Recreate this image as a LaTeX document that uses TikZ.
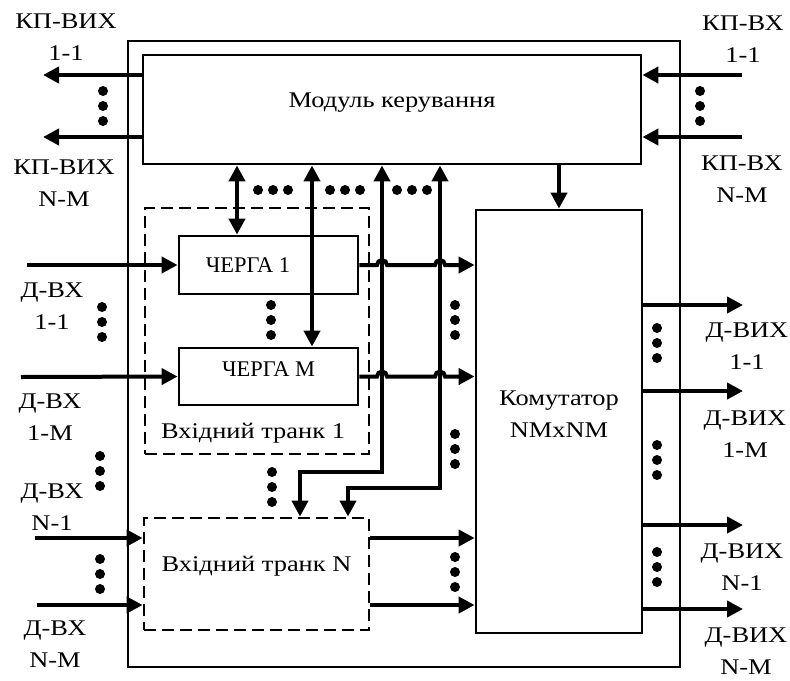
\documentclass[tikz,border=0pt]{standalone}
\usepackage{fontspec}
\setmainfont{Liberation Serif}[FakeStretch=1.18]
\newfontfamily\quefont{Liberation Serif}
\usepackage{tikz}
\usetikzlibrary{arrows.meta,positioning,fit,calc}

\tikzset{
  blk/.style={draw, line width=1.4pt, inner sep=0pt},
  trunk/.style={draw, line width=1.4pt, dash pattern=on 6pt off 3pt, inner sep=0pt},
  arr/.style={line width=2pt, -{Triangle[length=8pt,width=8pt]}},
  biarr/.style={line width=2pt, {Triangle[length=8pt,width=8pt]}-{Triangle[length=8pt,width=8pt]}},
  lbl/.style={align=center, inner sep=0pt},
  quetxt/.style={font=\quefont\fontsize{11.2}{13}\selectfont},
}
\newcommand{\dotcol}[2]{\foreach \dd in {-15,0,15} \fill (#1,#2+\dd) circle (2.5pt);}
\newcommand{\dotrow}[2]{\foreach \dd in {-15,0,15} \fill (#1+\dd,#2) circle (2.5pt);}

\begin{document}
\begin{tikzpicture}[x=0.5pt, y=-0.5pt, font=\fontsize{11.2}{16}\selectfont]
  \useasboundingbox (0,0) rectangle (790,680);

  % Outer frame
  \node[blk, fit={(128,41) (680,667)}] (frame) {};

  % Control module
  \node[blk, fit={(143,55) (641,164)}] (ctrl) {Модуль керування};

  % Switch
  \node[blk, fit={(476,210) (642,633)}, align=center] (sw) {Комутатор\\NMxNM};

  % Input trunk 1 with queues
  \node[trunk, fit={(145,208) (369,454)}] (tr1) {};
  \node[lbl] (tr1t) at (253,433) {Вхідний транк 1};
  \node[blk, fit={(179,236) (358,294)}] (q1) {};
  \node[lbl, quetxt] (q1t) at (248,265) {ЧЕРГА 1};
  \node[blk, fit={(179,348) (358,405)}, quetxt] (qM) {ЧЕРГА М};

  % Input trunk N
  \node[trunk, fit={(144,518) (369,630)}] (trN) {Вхідний транк N};

  % Control outputs (left) and inputs (right)
  \coordinate (ko1) at (43,75);
  \coordinate (ko2) at (43,137);
  \coordinate (ki1) at (742,75);
  \coordinate (ki2) at (742,137);
  \draw[arr] (ctrl.west |- ko1) -- (ko1);
  \draw[arr] (ctrl.west |- ko2) -- (ko2);
  \draw[arr] (ki1) -- (ctrl.east |- ki1);
  \draw[arr] (ki2) -- (ctrl.east |- ki2);
  \node[lbl] (lko1) at (66,37) {КП-ВИХ\\1-1};
  \node[lbl] (lko2) at (64,183) {КП-ВИХ\\N-M};
  \node[lbl] (lki1) at (743,39) {КП-ВХ\\1-1};
  \node[lbl] (lki2) at (742,179) {КП-ВХ\\N-M};

  % Control module -- queues and trunk N
  \coordinate (a1) at (237,0);
  \coordinate (a2) at (312,0);
  \coordinate (k1) at (382,472);
  \coordinate (k2) at (440,488);
  \coordinate (d1) at (300,0);
  \coordinate (d2) at (348,0);
  \draw[biarr] (ctrl.south -| a1) -- (q1.north -| a1);
  \draw[biarr] (ctrl.south -| a2) -- (qM.north -| a2);
  \draw[biarr] (ctrl.south -| k1) -- (k1) -| (trN.north -| d1);
  \draw[biarr] (ctrl.south -| k2) -- (k2) -| (trN.north -| d2);
  \draw[arr] (ctrl.south -| sw.north) -- (sw.north);

  % Data inputs
  \coordinate (in1) at (27,265);
  \coordinate (in2) at (21,377);
  \coordinate (in3) at (35,538);
  \coordinate (in4) at (37,605);
  \draw[arr] (in1) -- (q1.west);
  \draw[arr] (in2) -- (qM.west);
  \draw[arr] (in3) -- (trN.west |- in3);
  \draw[arr] (in4) -- (trN.west |- in4);
  \node[lbl] (lin1) at (52,306) {Д-ВХ\\1-1};
  \node[lbl] (lin2) at (50,417) {Д-ВХ\\1-М};
  \node[lbl] (lin3) at (52,507) {Д-ВХ\\N-1};
  \node[lbl] (lin4) at (55,644) {Д-ВХ\\N-M};

  % Queue outputs, hopping over the control lines
  \foreach \q in {q1,qM}
    \draw[arr] (\q.east) -- ($(\q.east -| k1)+(-5,0)$)
      arc[start angle=180, end angle=0, radius=2.5pt]
      -- ($(\q.east -| k2)+(-5,0)$)
      arc[start angle=180, end angle=0, radius=2.5pt]
      -- (sw.west |- \q.east);

  % Trunk N outputs
  \draw[arr] (trN.east |- in3) -- (sw.west |- in3);
  \draw[arr] (trN.east |- in4) -- (sw.west |- in4);

  % Data outputs
  \coordinate (out1) at (743,305);
  \coordinate (out2) at (743,391);
  \coordinate (out3) at (743,525);
  \coordinate (out4) at (743,609);
  \foreach \o in {out1,out2,out3,out4}
    \draw[arr] (sw.east |- \o) -- (\o);
  \node[lbl] (lout1) at (747,346) {Д-ВИХ\\1-1};
  \node[lbl] (lout2) at (745,434) {Д-ВИХ\\1-М};
  \node[lbl] (lout3) at (742,567) {Д-ВИХ\\N-1};
  \node[lbl] (lout4) at (746,651) {Д-ВИХ\\N-M};

  % Dots
  \dotcol{103}{106}
  \dotcol{700}{106}
  \dotcol{102}{322}
  \dotcol{100}{471}
  \dotcol{100}{574}
  \dotcol{271}{320}
  \dotcol{455}{320}
  \dotcol{455}{449}
  \dotcol{455}{572}
  \dotcol{272}{487}
  \dotcol{657}{343}
  \dotcol{657}{460}
  \dotcol{657}{567}
  \dotrow{273}{190}
  \dotrow{345}{190}
  \dotrow{412}{190}

\end{tikzpicture}
\end{document}
